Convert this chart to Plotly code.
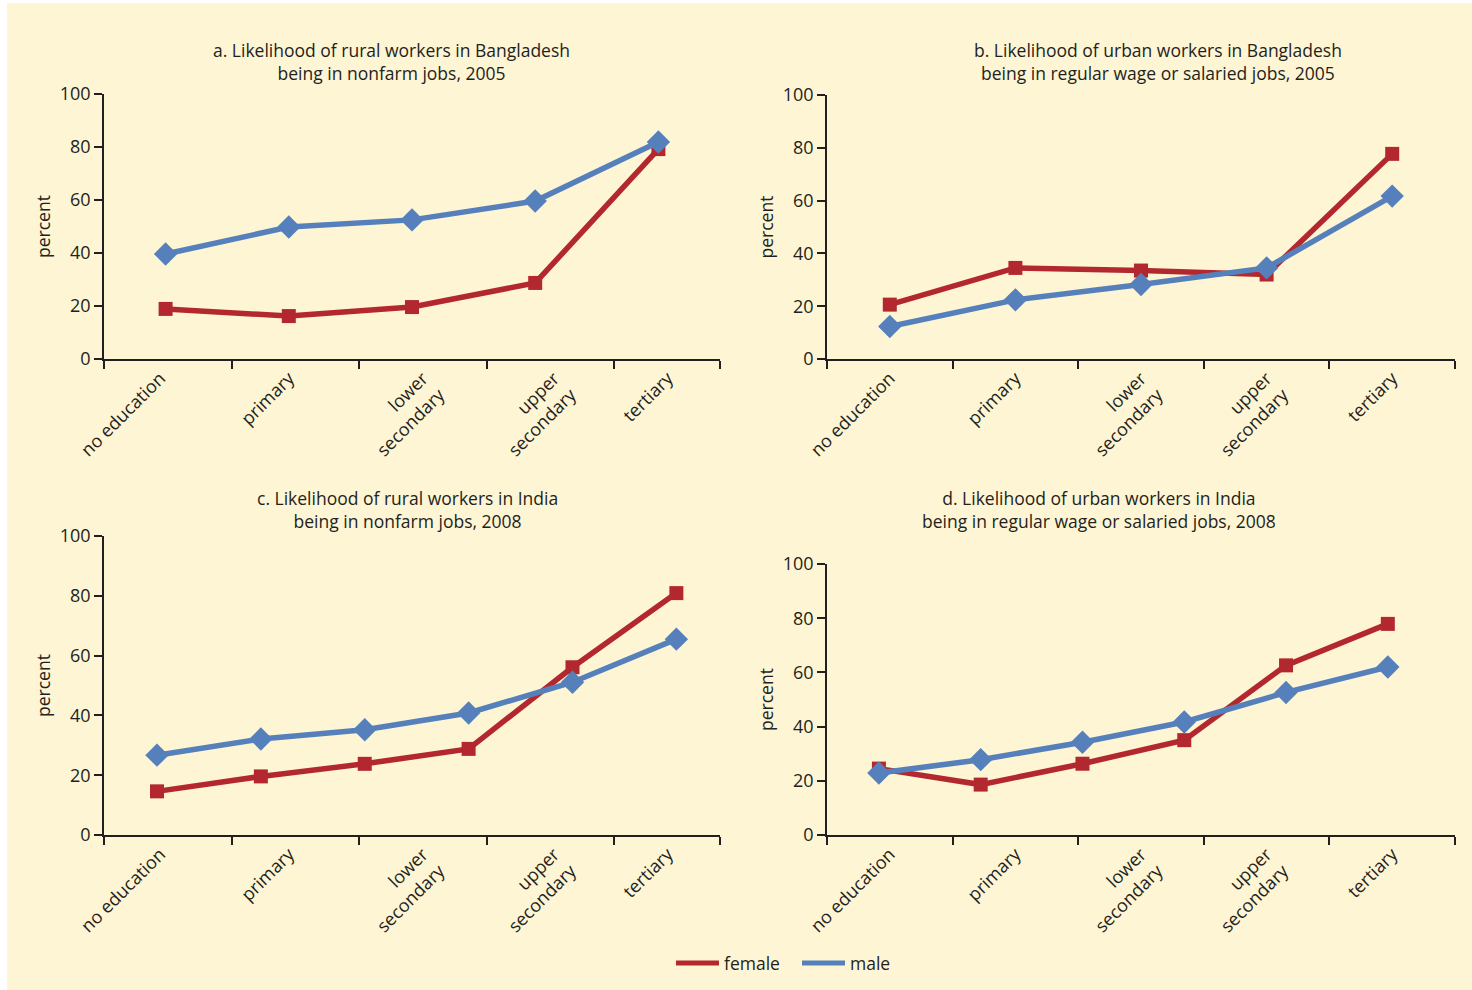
import plotly.graph_objects as go

# ---------------- data ----------------
edu_labels = ["no education", "primary", "lower<br>secondary", "upper<br>secondary", "tertiary"]

a_female = [18.9, 16.2, 19.6, 28.7, 79.2]
a_male = [39.6, 49.8, 52.5, 59.6, 81.9]

b_female = [20.6, 34.5, 33.5, 32.0, 77.7]
b_male = [12.3, 22.4, 28.2, 34.5, 61.7]

c_female = [14.6, 19.6, 23.8, 28.8, 56.1, 80.9]
c_male = [26.7, 32.1, 35.2, 40.8, 51.1, 65.5]

d_female = [24.5, 18.6, 26.3, 35.0, 62.6, 77.9]
d_male = [22.9, 27.8, 34.2, 41.7, 52.6, 62.0]

titles = [
    "a. Likelihood of rural workers in Bangladesh<br>being in nonfarm jobs, 2005",
    "b. Likelihood of urban workers in Bangladesh<br>being in regular wage or salaried jobs, 2005",
    "c. Likelihood of rural workers in India<br>being in nonfarm jobs, 2008",
    "d. Likelihood of urban workers in India<br>being in regular wage or salaried jobs, 2008",
]

# ---------------- style ----------------
W, H = 1472, 990
RED = "#B3282F"
BLUE = "#5580BC"
INK = "#231F20"
CREAM = "#FEF5D4"
FONT = "Open Sans"


def px_x(p):
    return p / W


def px_y(p):
    return 1 - p / H


# label-grid placement (in units of the tick-mark spacing)
grid_left = [0.44, 1.45, 2.5, 3.53, 4.42]
grid_right = [0.5, 1.5, 2.5, 3.5, 4.5]

# panel geometry in pixels: (x0, x1), (y of 100, y of 0); data-axis range; label grid span
panels = [
    dict(x=(104, 720), y=(94, 359), drange=[-0.5, 4.5], lspan=4.83, lpos=grid_left,
         fem=a_female, mal=a_male, tx=391, ty=(49, 74)),
    dict(x=(827, 1455), y=(95, 359), drange=[-0.5, 4.5], lspan=5.0, lpos=grid_right,
         fem=b_female, mal=b_male, tx=1158, ty=(49, 74)),
    dict(x=(104, 720), y=(536, 835), drange=[-0.51, 5.42], lspan=4.83, lpos=grid_left,
         fem=c_female, mal=c_male, tx=407, ty=(496, 522)),
    dict(x=(827, 1455), y=(564, 835), drange=[-0.51, 5.66], lspan=5.0, lpos=grid_right,
         fem=d_female, mal=d_male, tx=1099, ty=(496, 522)),
]

fig = go.Figure()
layout = dict(
    width=W, height=H,
    autosize=False,
    paper_bgcolor="white",
    plot_bgcolor="rgba(0,0,0,0)",
    margin=dict(l=0, r=0, t=0, b=0, pad=0, autoexpand=False),
    font=dict(family=FONT, size=17, color=INK),
    showlegend=True,
    legend=dict(orientation="h", x=px_x(797), xanchor="center", y=px_y(963), yanchor="middle",
                bgcolor="rgba(0,0,0,0)", font=dict(size=17.5, family=FONT, color=INK),
                itemwidth=43, entrywidth=68, entrywidthmode="pixels"),
    shapes=[dict(type="rect", xref="paper", yref="paper", x0=px_x(7), x1=1.0, y0=0, y1=px_y(3),
                 fillcolor=CREAM, line=dict(width=0), layer="below")],
    annotations=[],
)

for i, p in enumerate(panels):
    k = i + 1
    x_ax = "xaxis" if k == 1 else f"xaxis{k}"
    y_ax = "yaxis" if k == 1 else f"yaxis{k}"
    xref = "x" if k == 1 else f"x{k}"
    yref = "y" if k == 1 else f"y{k}"
    xdom = [px_x(p["x"][0]), px_x(p["x"][1])]
    ydom = [px_y(p["y"][1]), px_y(p["y"][0])]

    d0, d1 = p["drange"]
    span = p["lspan"]

    def to_data(g, d0=d0, d1=d1, span=span):
        return d0 + (g / span) * (d1 - d0)

    ncat = len(edu_labels)
    label_pos = [to_data(g) for g in p["lpos"]]
    tick_pos = [to_data(j) for j in range(ncat)] + [to_data(span) - 0.002]

    layout[x_ax] = dict(
        domain=xdom, anchor=yref, range=p["drange"], type="linear",
        tickmode="array", tickvals=label_pos, ticktext=edu_labels, tickangle=-45,
        ticks="", showline=True, linecolor=INK, linewidth=1.5,
        showgrid=False, zeroline=False, tickfont=dict(size=18, family=FONT, color=INK),
        minor=dict(tickmode="array", tickvals=tick_pos, ticks="outside", ticklen=8,
                   tickwidth=1.5, tickcolor=INK, showgrid=False),
        automargin=False, fixedrange=True,
    )
    layout[y_ax] = dict(
        domain=ydom, anchor=xref, range=[0, 100], tickmode="array",
        tickvals=[0, 20, 40, 60, 80, 100], ticks="outside", ticklen=8, tickwidth=1.5,
        tickcolor=INK, showline=True, linecolor=INK, linewidth=1.5, showgrid=False,
        zeroline=False, tickfont=dict(size=18, family=FONT, color=INK),
        title=dict(text="percent", font=dict(size=17.5, family=FONT, color=INK), standoff=5),
        automargin=False, fixedrange=True,
    )

    xs = list(range(len(p["fem"])))
    fig.add_trace(go.Scatter(
        x=xs, y=p["fem"], xaxis=xref, yaxis=yref, mode="lines+markers", name="female",
        line=dict(color=RED, width=5.5), marker=dict(symbol="square", size=14, color=RED),
        showlegend=False, hoverinfo="skip", cliponaxis=False))
    fig.add_trace(go.Scatter(
        x=xs, y=p["mal"], xaxis=xref, yaxis=yref, mode="lines+markers", name="male",
        line=dict(color=BLUE, width=5.5), marker=dict(symbol="diamond", size=18, color=BLUE),
        showlegend=False, hoverinfo="skip", cliponaxis=False))

    layout["annotations"].append(dict(
        text=titles[i], xref="paper", yref="paper", x=px_x(p["tx"]),
        y=px_y((p["ty"][0] + p["ty"][1]) / 2),
        xanchor="center", yanchor="middle", showarrow=False,
        font=dict(size=17.5, family=FONT, color=INK), align="center"))

# legend entries (lines only, as in the reference legend)
fig.add_trace(go.Scatter(x=[None], y=[None], mode="lines", name="female",
                         line=dict(color=RED, width=5), showlegend=True, hoverinfo="skip"))
fig.add_trace(go.Scatter(x=[None], y=[None], mode="lines", name="male",
                         line=dict(color=BLUE, width=5), showlegend=True, hoverinfo="skip"))

fig.update_layout(**layout)
fig.write_html("out.html", config={"displayModeBar": False},
               post_script="document.body.style.margin='0px';")
